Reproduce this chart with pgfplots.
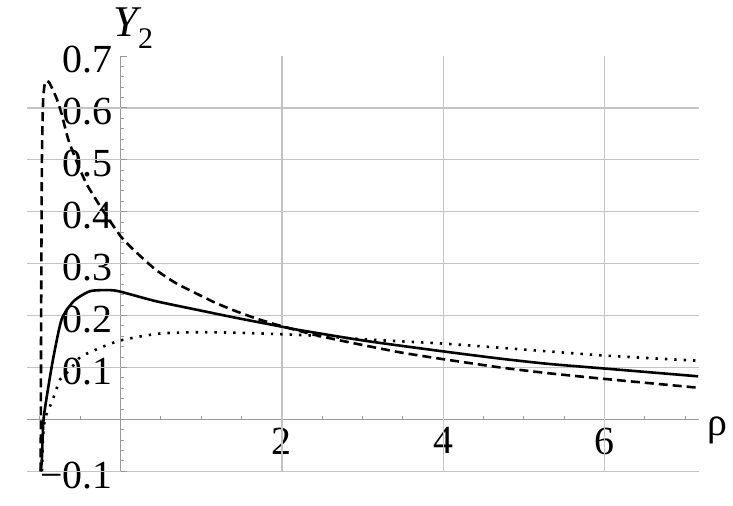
\documentclass[border=0pt]{standalone}
\usepackage{fontspec}
\setmainfont{Liberation Serif}
\usepackage{pgfplots}
\pgfplotsset{compat=1.18}
\definecolor{gridc}{HTML}{C4C4C4}
\definecolor{axc}{HTML}{9A9A9A}
\begin{document}
\begin{tikzpicture}
\begin{axis}[
 scale only axis,
 x=80.65bp, y=519bp,
 xmin=-1.16, xmax=7.17, ymin=-0.1, ymax=0.7,
 axis lines=middle,
 axis line style={draw=axc, line width=1.3bp, -},
 xtick={2,4,6}, xticklabels={2,4,6},
 ytick={-0.1,0.1,0.2,0.3,0.4,0.5,0.6,0.7},
 yticklabels={−0.1,0.1,0.2,0.3,0.4,0.5,0.6,0.7},
 major tick length=0pt, minor tick length=0pt,
 tick style={draw=none},
 xticklabel style={font=\fontsize{40}{48}\selectfont, anchor=north, inner sep=0pt, yshift=-8bp},
 yticklabel style={font=\fontsize{40}{48}\selectfont, anchor=east, inner sep=0pt, xshift=-8bp, yshift=-4bp},
 clip mode=individual,
]
% grid
\pgfplotsinvokeforeach{-0.1,0.1,0.2,0.3,0.4,0.5,0.6}{
  \draw[gridc, line width=1.3bp] (axis cs:-1.16,#1) -- (axis cs:7.17,#1);
}
\pgfplotsinvokeforeach{2,4,6}{
  \draw[gridc, line width=1.3bp] (axis cs:#1,-0.1) -- (axis cs:#1,0.7);
}
% ticks
\pgfplotsinvokeforeach{-1,-0.5,0.5,1,1.5,2.5,3,3.5,4.5,5,5.5,6.5,7}{
  \draw[axc, line width=1bp] (axis cs:#1,0) -- ++(0pt,3bp);
}
\pgfplotsinvokeforeach{-0.08,-0.06,-0.04,-0.02,0.02,0.04,0.06,0.08,0.12,0.14,0.16,0.18,0.22,0.24,0.26,0.28,0.32,0.34,0.36,0.38,0.42,0.44,0.46,0.48,0.52,0.54,0.56,0.58,0.62,0.64,0.66,0.68}{
  \draw[axc, line width=1bp] (axis cs:0,#1) -- ++(3bp,0pt);
}
\pgfplotsinvokeforeach{-0.1,0.1,0.2,0.3,0.4,0.5,0.6,0.7}{
  \draw[axc, line width=1bp] (axis cs:0,#1) -- ++(6bp,0pt);
}
% dashed
\addplot[black, line width=2.6bp, dash pattern=on 9bp off 5bp, smooth, tension=0.35] coordinates {
(-0.99,-0.1) (-0.985,0.2) (-0.975,0.5) (-0.96,0.615) (-0.935,0.650) (-0.89,0.650) (-0.84,0.635)
(-0.79,0.617) (-0.73,0.588) (-0.65,0.540) (-0.54,0.495) (-0.42,0.453) (-0.23,0.405)
(0,0.353) (0.18,0.324) (0.43,0.289) (0.68,0.263) (0.92,0.244) (1.17,0.225) (1.42,0.209)
(1.67,0.195) (1.92,0.183) (2.4,0.163)
(2.85,0.148) (3.47,0.129) (4.0,0.116) (4.71,0.100) (5.3,0.089) (6.0,0.078) (7.16,0.061)
};
% solid
\addplot[black, line width=2.6bp, smooth, tension=0.4] coordinates {
(-0.99,-0.1) (-0.976,-0.077) (-0.955,0.0) (-0.894,0.064) (-0.83,0.122) (-0.73,0.193)
(-0.58,0.228) (-0.377,0.247) (-0.13,0.249) (0.0,0.246) (0.43,0.228) (0.92,0.212) (1.42,0.196)
(1.92,0.181) (2.22,0.172) (3.05,0.151) (4.0,0.131) (4.71,0.117) (5.3,0.107)
(6.0,0.098) (7.16,0.083)
};
% dotted
\addplot[black, line width=2.6bp, dash pattern=on 2.4bp off 7bp, smooth, tension=0.4] coordinates {
(-0.975,-0.1) (-0.96,-0.03) (-0.935,0.003) (-0.873,0.026) (-0.81,0.051) (-0.75,0.077) (-0.625,0.096)
(-0.5,0.120) (-0.25,0.138) (-0.026,0.151) (0.25,0.160) (0.53,0.166) (1.03,0.168)
(1.65,0.166) (2.31,0.162) (3.05,0.154) (4.0,0.146) (4.71,0.138) (6.0,0.123) (7.16,0.113)
};
% axis labels
\node[anchor=north west, inner sep=0pt, font=\fontsize{40}{48}\selectfont] at (axis cs:7.17,0) [xshift=8bp, yshift=3bp] {ρ};
\node[anchor=base west, inner sep=0pt] at (axis cs:0,0.7) [xshift=-7bp, yshift=20bp]
  {\fontsize{44}{50}\selectfont\itshape Y\upshape\raisebox{-12bp}{\fontsize{30}{36}\selectfont 2}};
% bounding box
\path (rel axis cs:0,0) ++(-27bp,-34bp) coordinate (bbA);
\path (rel axis cs:1,1) ++(34bp,56bp) coordinate (bbB);
\path[use as bounding box] (bbA) rectangle (bbB);
\end{axis}
\end{tikzpicture}
\end{document}
